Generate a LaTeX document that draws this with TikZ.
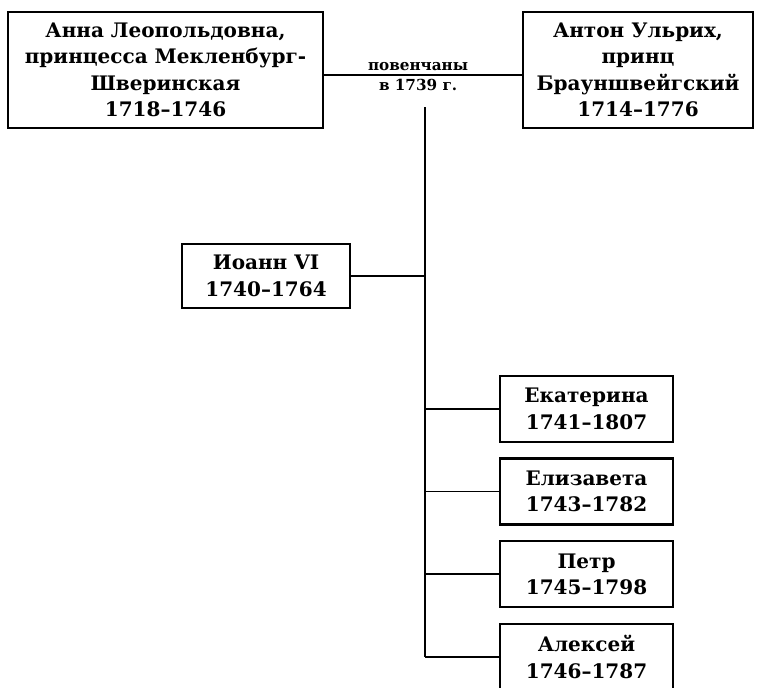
\documentclass[tikz,border=0pt]{standalone}
\usepackage{fontspec}
\setmainfont{DejaVu Serif}
\usepackage{tikz}
\usetikzlibrary{positioning}
\tikzstyle{person} = [rectangle, draw=black, line width=1.2pt, align=center, inner sep=2pt, font=\fontsize{10}{13.2}\selectfont\bfseries]
\tikzstyle{parent} = [person, minimum height=58pt]
\tikzstyle{child} = [person, minimum width=86.5pt, minimum height=33pt]
\tikzstyle{line} = [line width=0.8pt]
\tikzstyle{marks} = [font=\fontsize{7.6}{8}\selectfont\bfseries, inner sep=1.5pt]

\begin{document}
\begin{tikzpicture}[x=0.5pt, y=-0.5pt, node distance=41.3pt]
        \useasboundingbox (0,0) rectangle (759,687);
        % Nodes
        \node (anna) [parent, minimum width=157.5pt] at (165.5,70) {Анна Леопольдовна,\\принцесса Мекленбург-\\Шверинская\\1718--1746};
        \node (anton) [parent, minimum width=115pt] at (638,70) {Антон Ульрих,\\принц\\Брауншвейгский\\1714--1776};
        \coordinate (top) at (425,107);
        \node (ioann) [person, minimum width=84pt, minimum height=32pt] at (266,276) {Иоанн VI\\1740--1764};
        \node (ekat) [child] at (586.5,409) {Екатерина\\1741--1807};
        \node (elis) [child, below of=ekat] {Елизавета\\1743--1782};
        \node (petr) [child, below of=elis] {Петр\\1745--1798};
        \node (alex) [child, below of=petr] {Алексей\\1746--1787};

        % Lines
        \draw [line] ([yshift=-2.5pt]anna.east) -- node [marks, pos=0.475, above] {повенчаны} node [marks, pos=0.475, below] {в 1739 г.} ([yshift=-2.5pt]anton.west);
        \draw [line, line width=1pt] (top) -- (top |- alex);
        \draw [line] (ioann) -- (ioann -| top);
        \draw [line] (ekat) -- (ekat -| top);
        \draw [line] (elis) -- (elis -| top);
        \draw [line] (petr) -- (petr -| top);
        \draw [line] (alex) -- (alex -| top);
    \end{tikzpicture}
\end{document}
